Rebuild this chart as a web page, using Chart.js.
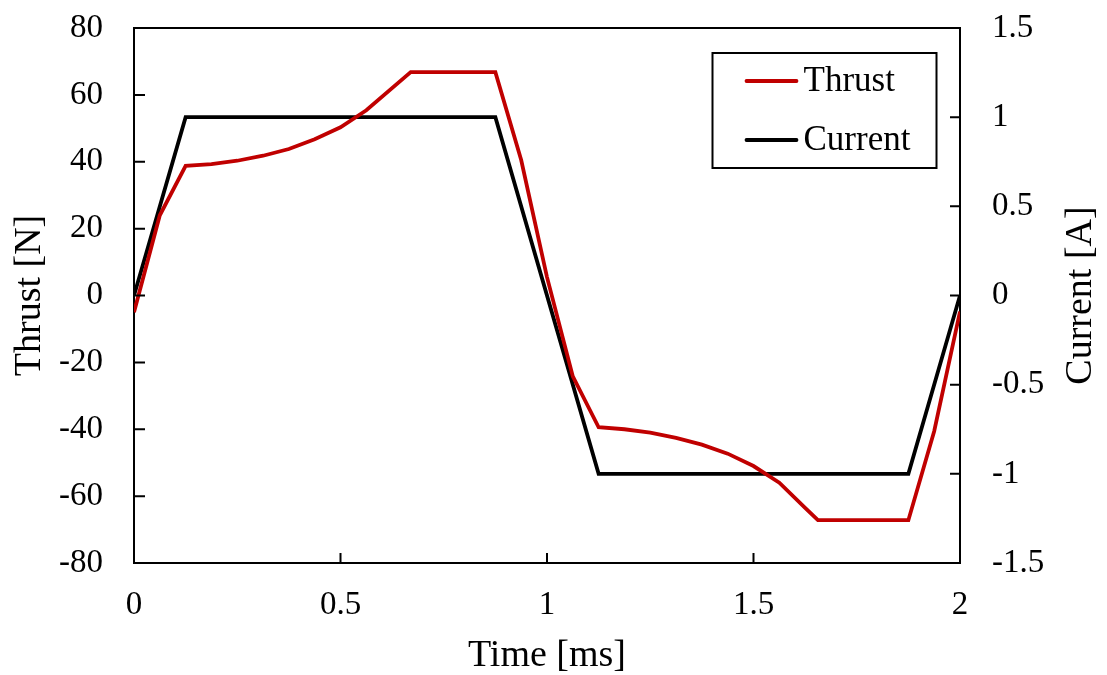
<!DOCTYPE html>
<html>
<head>
<meta charset="utf-8">
<script src="https://cdn.jsdelivr.net/npm/chart.js@4"></script>
<style>
  body { margin: 0; background: #fff; }
  #wrap { width: 1107px; height: 675px; }
</style>
</head>
<body>
<div id="wrap"><canvas id="chart" width="1107" height="675"></canvas></div>
<script>
// valores
const currentTime = [0, 0.125, 0.875, 1.125, 1.875, 2];
const currentValue = [0, 1, 1, -1, -1, 0];

const thrustTime = [0, 0.0625, 0.125, 0.1875, 0.25, 0.3125, 0.375, 0.4375, 0.5, 0.5625,
  0.67, 0.875, 0.9375, 1.0, 1.0625, 1.125, 1.1875, 1.25, 1.3125, 1.375, 1.4375, 1.5,
  1.5625, 1.625, 1.656, 1.875, 1.9375, 2];
const thrustValue = [-5, 24, 38.8, 39.3, 40.3, 41.8, 43.8, 46.7, 50.3, 55.4,
  66.8, 66.8, 40.5, 5.5, -24.2, -39.4, -40, -41, -42.6, -44.6, -47.3, -51,
  -56, -63.5, -67.2, -67.2, -40.6, -4.8];

const seriesNames = ["Thrust", "Current"];
const seriesColors = ["#c00000", "#000000"];
const rightTitle = "Current [A]";

const FONT = "'Liberation Serif', 'Times New Roman', serif";

const toPoints = (xs, ys) => xs.map((x, i) => ({ x, y: ys[i] }));

// marco superior, ticks hacia adentro, título derecho y leyenda dentro del área
const framePlugin = {
  id: "frame",
  afterDatasetsDraw(chart) {
    const { ctx, chartArea: a, scales } = chart;
    ctx.save();
    ctx.strokeStyle = "#000";
    ctx.lineWidth = 2;
    ctx.beginPath();
    ctx.moveTo(a.left, a.top);
    ctx.lineTo(a.right, a.top);
    scales.x.ticks.forEach((t) => {
      const px = scales.x.getPixelForValue(t.value);
      ctx.moveTo(px, a.bottom);
      ctx.lineTo(px, a.bottom - 10);
    });
    scales.y.ticks.forEach((t) => {
      const py = scales.y.getPixelForValue(t.value);
      ctx.moveTo(a.left, py);
      ctx.lineTo(a.left + 11, py);
    });
    scales.y2.ticks.forEach((t) => {
      const py = scales.y2.getPixelForValue(t.value);
      ctx.moveTo(a.right, py);
      ctx.lineTo(a.right - 10, py);
    });
    ctx.stroke();

    // título del eje derecho, leído de abajo hacia arriba
    ctx.translate(scales.y2.right - 26, (a.top + a.bottom) / 2);
    ctx.rotate(-Math.PI / 2);
    ctx.font = "38px " + FONT;
    ctx.fillStyle = "#000";
    ctx.textAlign = "center";
    ctx.textBaseline = "middle";
    ctx.fillText(rightTitle, 0, 0);
    ctx.restore();
  },
  afterDraw(chart) {
    const { ctx, chartArea: a } = chart;
    const bx = a.right - 247.5, by = a.top + 25, bw = 224, bh = 115;
    ctx.save();
    ctx.fillStyle = "#fff";
    ctx.fillRect(bx, by, bw, bh);
    ctx.strokeStyle = "#000";
    ctx.lineWidth = 2;
    ctx.strokeRect(bx, by, bw, bh);
    ctx.font = "35px " + FONT;
    ctx.textBaseline = "middle";
    ctx.textAlign = "left";
    const rows = [by + 28, by + 87];
    chart.data.datasets.forEach((ds, i) => {
      ctx.strokeStyle = ds.borderColor;
      ctx.lineWidth = 3.8;
      ctx.lineCap = "round";
      ctx.beginPath();
      ctx.moveTo(bx + 34, rows[i]);
      ctx.lineTo(bx + 84, rows[i]);
      ctx.stroke();
      ctx.fillStyle = "#000";
      ctx.fillText(ds.label, bx + 91, rows[i] + 1);
    });
    ctx.restore();
  },
};

const tickFont = { family: FONT, size: 33, lineHeight: 1 };
const titleFont = { family: FONT, size: 38, lineHeight: 1 };

const noPadY = (w) => (s) => {
  s.width = w;
  s.paddingTop = 0;
  s.paddingBottom = 0;
};

new Chart(document.getElementById("chart"), {
  type: "line",
  data: {
    datasets: [
      {
        label: seriesNames[0],
        data: toPoints(thrustTime, thrustValue),
        borderColor: seriesColors[0],
        borderWidth: 3.8,
        pointRadius: 0,
        tension: 0,
        yAxisID: "y",
      },
      {
        label: seriesNames[1],
        data: toPoints(currentTime, currentValue),
        borderColor: seriesColors[1],
        borderWidth: 3.8,
        pointRadius: 0,
        tension: 0,
        yAxisID: "y2",
      },
    ],
  },
  options: {
    responsive: false,
    animation: false,
    events: [],
    layout: { padding: { top: 28, left: 0, right: 0, bottom: 0 } },
    plugins: { legend: { display: false }, tooltip: { enabled: false } },
    scales: {
      x: {
        type: "linear",
        min: 0,
        max: 2,
        ticks: { stepSize: 0.5, color: "#000", font: tickFont, padding: 26, maxRotation: 0,
          callback: (v) => String(v) },
        grid: { display: false, drawTicks: false },
        border: { display: true, color: "#000", width: 2 },
        title: { display: true, text: "Time [ms]", color: "#000", font: titleFont, padding: { top: 0, bottom: 0 } },
        afterFit: (s) => {
          s.height = 112;
          s.paddingLeft = 0;
          s.paddingRight = 0;
        },
      },
      y: {
        position: "left",
        min: -80,
        max: 80,
        ticks: { stepSize: 20, color: "#000", font: tickFont, padding: 31,
          callback: (v) => String(v) },
        grid: { display: false, drawTicks: false },
        border: { display: true, color: "#000", width: 2 },
        title: { display: true, text: "Thrust [N]", color: "#000", font: titleFont, padding: { top: 11, bottom: 0 } },
        afterFit: noPadY(134),
      },
      y2: {
        position: "right",
        min: -1.5,
        max: 1.5,
        ticks: { stepSize: 0.5, color: "#000", font: tickFont, padding: 32,
          callback: (v) => String(v) },
        grid: { display: false, drawTicks: false },
        border: { display: true, color: "#000", width: 2 },
        title: { display: false },
        afterFit: noPadY(147),
      },
    },
  },
  plugins: [framePlugin],
});
</script>
</body>
</html>
